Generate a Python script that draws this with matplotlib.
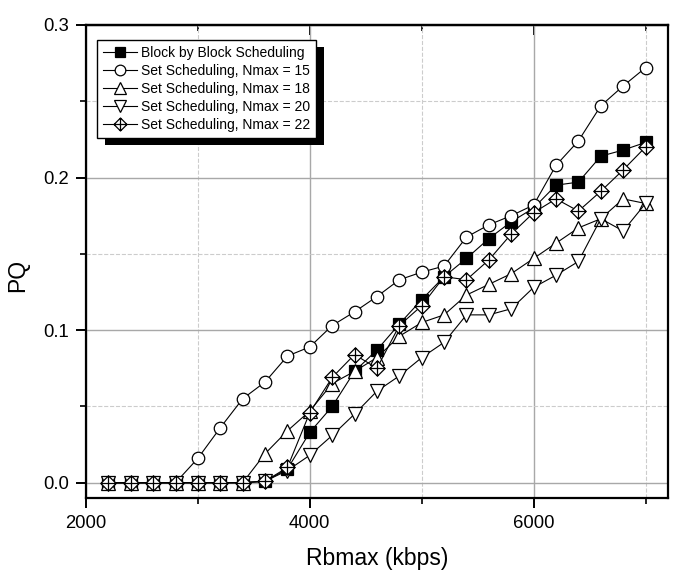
"""Recreate the PQ vs Rbmax scheduling comparison chart."""

import matplotlib

matplotlib.use("Agg")
import matplotlib.pyplot as plt  # noqa: E402
from matplotlib.patches import Rectangle  # noqa: E402
from matplotlib.path import Path  # noqa: E402
from matplotlib.ticker import MultipleLocator  # noqa: E402

plt.rcParams["font.family"] = ["Liberation Sans", "DejaVu Sans"]

rbmax = [2200, 2400, 2600, 2800, 3000, 3200, 3400, 3600, 3800, 4000, 4200, 4400, 4600,
         4800, 5000, 5200, 5400, 5600, 5800, 6000, 6200, 6400, 6600, 6800, 7000]

block = [0.0, 0.0, 0.0, 0.0, 0.0, 0.0, 0.0, 0.001, 0.009, 0.033, 0.050, 0.073, 0.087,
         0.104, 0.120, 0.135, 0.147, 0.160, 0.171, 0.180, 0.195, 0.197, 0.214, 0.218, 0.223]
nmax15 = [0.0, 0.0, 0.0, 0.0, 0.016, 0.036, 0.055, 0.066, 0.083, 0.089, 0.103, 0.112, 0.122,
          0.133, 0.138, 0.142, 0.161, 0.169, 0.175, 0.182, 0.208, 0.224, 0.247, 0.260, 0.272]
nmax18 = [0.0, 0.0, 0.0, 0.0, 0.0, 0.0, 0.0, 0.019, 0.034, 0.047, 0.065, 0.073, 0.082,
          0.096, 0.105, 0.110, 0.123, 0.130, 0.137, 0.147, 0.157, 0.167, 0.173, 0.186, 0.183]
nmax20 = [0.0, 0.0, 0.0, 0.0, 0.0, 0.0, 0.0, 0.001, 0.008, 0.018, 0.031, 0.045, 0.060,
          0.070, 0.082, 0.092, 0.110, 0.110, 0.114, 0.128, 0.136, 0.145, 0.173, 0.165, 0.183]
nmax22 = [0.0, 0.0, 0.0, 0.0, 0.0, 0.0, 0.0, 0.001, 0.010, 0.046, 0.069, 0.084, 0.075,
          0.103, 0.116, 0.135, 0.133, 0.146, 0.163, 0.177, 0.186, 0.178, 0.191, 0.205, 0.220]

labels = [
    "Block by Block Scheduling",
    "Set Scheduling, Nmax = 15",
    "Set Scheduling, Nmax = 18",
    "Set Scheduling, Nmax = 20",
    "Set Scheduling, Nmax = 22",
]

# diamond with a cross inside
_diamond_cross = Path(
    [(0, 1), (1, 0), (0, -1), (-1, 0), (0, 1), (0, 1), (0, -1), (-1, 0), (1, 0)],
    [Path.MOVETO, Path.LINETO, Path.LINETO, Path.LINETO, Path.CLOSEPOLY,
     Path.MOVETO, Path.LINETO, Path.MOVETO, Path.LINETO],
)

series = [
    (block, "s", "black", 8),
    (nmax15, "o", "white", 9),
    (nmax18, "^", "white", 10),
    (nmax20, "v", "white", 10),
    (nmax22, _diamond_cross, "white", 11),
]

fig = plt.figure(figsize=(6.85, 5.72), dpi=100)
ax = fig.add_axes([0.1255, 0.1294, 0.8496, 0.827])

for (vals, marker, face, ms), label in zip(series, labels):
    ax.plot(rbmax, vals, color="black", lw=0.8, marker=marker, ms=ms,
            mfc=face, mec="black", mew=0.9, label=label)

ax.set_xlim(2000, 7200)
ax.set_ylim(-0.01, 0.3)
ax.xaxis.set_major_locator(MultipleLocator(2000))
ax.xaxis.set_minor_locator(MultipleLocator(1000))
ax.yaxis.set_major_locator(MultipleLocator(0.1))
ax.yaxis.set_minor_locator(MultipleLocator(0.05))
ax.yaxis.set_major_formatter(plt.FuncFormatter(lambda v, _: f"{v:.1f}"))

ax.grid(which="major", color="#a8a8a8", lw=1.0, ls="-")
ax.grid(which="minor", color="#cccccc", lw=0.8, ls="--")
ax.set_axisbelow(True)

for spine in ax.spines.values():
    spine.set_linewidth(1.6)
ax.tick_params(which="major", direction="out", length=7, width=1.4, labelsize=13.3,
               top=False, right=False, pad=5)
ax.tick_params(which="minor", direction="out", length=4, width=1.2,
               top=False, right=False)

# inward ticks on top only
ax_top = ax.secondary_xaxis("top")
ax_top.xaxis.set_major_locator(MultipleLocator(2000))
ax_top.xaxis.set_minor_locator(MultipleLocator(1000))
ax_top.tick_params(which="major", direction="in", length=7, width=1.4, labeltop=False)
ax_top.tick_params(which="minor", direction="in", length=4, width=1.2)
ax_top.spines["top"].set_linewidth(1.6)

ax.set_xlabel("Rbmax (kbps)", fontsize=16.5, labelpad=11)
ax.set_ylabel("PQ", fontsize=16.5, labelpad=10)
ax.yaxis.set_label_coords(-0.098, 0.47)

leg = ax.legend(loc="upper left", bbox_to_anchor=(0.019, 0.968), borderaxespad=0,
                fontsize=10, frameon=True, fancybox=False, edgecolor="black",
                framealpha=1, labelspacing=0.28, handlelength=2.4, handletextpad=0.3,
                borderpad=0.45, markerscale=0.85)
leg.get_frame().set_linewidth(1.0)
leg.set_zorder(6)

# solid black drop shadow behind the legend
fig.canvas.draw()
bb = leg.get_window_extent()
inv = fig.transFigure.inverted()
(x0, y0), (x1, y1) = inv.transform([(bb.x0 + 8, bb.y0 - 7), (bb.x1 + 8, bb.y1 - 7)])
ax.add_patch(Rectangle((x0, y0), x1 - x0, y1 - y0, transform=fig.transFigure,
                       facecolor="black", edgecolor="none", zorder=5.5, clip_on=False))

fig.savefig("out.png", dpi=100)
